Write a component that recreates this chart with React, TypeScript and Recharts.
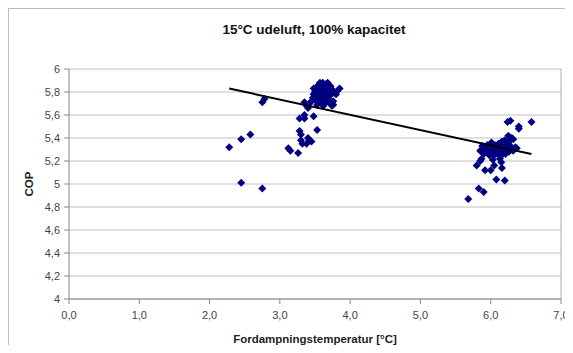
import { ScatterChart, Scatter, XAxis, YAxis, CartesianGrid, ReferenceLine, Label } from 'recharts';

const title = '15°C udeluft, 100% kapacitet';
const xTicks = [0, 1, 2, 3, 4, 5, 6, 7];
const yTicks = [4, 4.2, 4.4, 4.6, 4.8, 5, 5.2, 5.4, 5.6, 5.8, 6];

// measured points [fordampningstemperatur, COP]
const lowPoints = [
  [2.28, 5.32], [2.45, 5.39], [2.58, 5.43], [2.45, 5.01], [2.75, 4.96],
  [2.75, 5.71], [2.78, 5.74], [3.12, 5.31], [3.15, 5.29], [3.26, 5.27],
  [3.28, 5.57], [3.28, 5.46], [3.3, 5.43], [3.3, 5.38], [3.32, 5.35],
  [3.35, 5.57], [3.35, 5.6], [3.38, 5.35], [3.4, 5.4], [3.42, 5.38],
  [3.45, 5.37], [3.48, 5.59], [3.53, 5.47], [3.35, 5.71], [3.38, 5.68],
  [3.4, 5.66], [3.42, 5.7],
];

const midCluster = [
  [3.45, 5.72], [3.47, 5.75], [3.48, 5.78], [3.5, 5.8], [3.5, 5.74], [3.52, 5.84],
  [3.52, 5.77], [3.54, 5.71], [3.55, 5.82], [3.55, 5.86], [3.56, 5.78], [3.57, 5.74],
  [3.58, 5.8], [3.58, 5.85], [3.59, 5.7], [3.6, 5.83], [3.6, 5.77], [3.61, 5.88],
  [3.62, 5.73], [3.63, 5.8], [3.63, 5.86], [3.64, 5.76], [3.65, 5.83], [3.66, 5.87],
  [3.66, 5.71], [3.67, 5.79], [3.68, 5.84], [3.69, 5.74], [3.7, 5.81], [3.7, 5.86],
  [3.71, 5.77], [3.72, 5.7], [3.73, 5.83], [3.74, 5.68], [3.75, 5.79], [3.76, 5.72],
  [3.78, 5.8], [3.8, 5.78], [3.82, 5.81], [3.85, 5.83], [3.76, 5.69], [3.53, 5.69],
  [3.62, 5.68], [3.57, 5.88], [3.48, 5.83], [3.68, 5.88], [3.72, 5.85],
];

const highPoints = [
  [5.68, 4.87], [5.83, 4.96], [5.9, 4.93], [5.8, 5.16], [5.85, 5.2], [5.92, 5.12],
  [6.0, 5.12], [6.05, 5.16], [6.08, 5.04], [6.15, 5.19], [6.16, 5.14], [6.2, 5.03],
  [6.24, 5.54], [6.28, 5.55], [6.4, 5.48], [6.4, 5.5], [6.58, 5.54], [6.32, 5.39],
  [6.25, 5.42],
  [5.85, 5.29], [5.88, 5.33], [5.9, 5.26], [5.92, 5.31], [5.94, 5.28], [5.95, 5.34],
  [5.97, 5.3], [5.98, 5.25], [6.0, 5.32], [6.01, 5.36], [6.02, 5.28], [6.04, 5.31],
  [6.05, 5.25], [6.06, 5.34], [6.08, 5.29], [6.09, 5.32], [6.1, 5.27], [6.11, 5.35],
  [6.12, 5.3], [6.14, 5.24], [6.15, 5.33], [6.16, 5.37], [6.18, 5.28], [6.19, 5.31],
  [6.2, 5.38], [6.21, 5.26], [6.22, 5.34], [6.24, 5.3], [6.25, 5.36], [6.26, 5.28],
  [6.28, 5.33], [6.3, 5.31], [6.32, 5.29], [6.35, 5.32], [6.37, 5.31], [6.3, 5.4],
  [6.27, 5.38], [5.87, 5.22], [6.03, 5.21], [6.13, 5.22],
];

// linear trendline endpoints
const trendline = [[2.28, 5.83], [6.58, 5.26]];

const toXY = (arr: number[][]) => arr.map(([x, y]) => ({ x, y }));
const points = toXY([...lowPoints, ...midCluster, ...highPoints]);
const trend = toXY(trendline);

const fmtX = (v: number) => v.toFixed(1).replace('.', ',');
const fmtY = (v: number) => String(Math.round(v * 10) / 10).replace('.', ',');

const Diamond = (props: any) => {
  const { cx, cy } = props;
  const r = 4;
  return (
    <polygon
      points={`${cx},${cy - r} ${cx + r},${cy} ${cx},${cy + r} ${cx - r},${cy}`}
      fill="#000080"
    />
  );
};

const font = '"Liberation Sans", Arial, sans-serif';
const tickStyle = { fontSize: 11, fill: '#444', fontFamily: font };

export default function App() {
  return (
    <div
      style={{
        position: 'relative',
        width: 565,
        height: 337,
        borderLeft: '1px solid #bbb',
        borderTop: '1px solid #bbb',
        boxSizing: 'border-box',
        fontFamily: font,
        background: '#fff',
      }}
    >
      <div
        style={{
          position: 'absolute',
          left: 0,
          width: 610,
          top: 13,
          textAlign: 'center',
          fontWeight: 'bold',
          fontSize: 13.5,
          color: '#111',
        }}
      >
        {title}
      </div>
      <ScatterChart
        width={564}
        height={336}
        margin={{ top: 60, right: 12, left: 0, bottom: 0 }}
      >
        <CartesianGrid vertical={false} stroke="#c0c0c0" strokeWidth={1} />
        <XAxis
          type="number"
          dataKey="x"
          domain={[0, 7]}
          ticks={xTicks}
          tickFormatter={fmtX}
          tick={tickStyle}
          tickSize={5}
          tickMargin={7}
          stroke="#888"
          height={46}
          interval={0}
        >
          <Label
            value="Fordampningstemperatur [°C]"
            position="insideBottom"
            offset={2}
            style={{ fontSize: 11.5, fontWeight: 'bold', fill: '#222', fontFamily: font }}
          />
        </XAxis>
        <YAxis
          type="number"
          dataKey="y"
          domain={[4, 6]}
          ticks={yTicks}
          tickFormatter={fmtY}
          tick={tickStyle}
          tickSize={5}
          tickMargin={4}
          stroke="#888"
          width={60}
          interval={0}
        >
          <Label
            value="COP"
            angle={-90}
            position="insideLeft"
            offset={20}
            style={{ fontSize: 11.5, fontWeight: 'bold', fill: '#222', fontFamily: font, textAnchor: 'middle' }}
          />
        </YAxis>
        <ReferenceLine x={7} stroke="#aaa" />
        <Scatter data={points} shape={<Diamond />} isAnimationActive={false} />
        <Scatter
          data={trend}
          line={{ stroke: '#000', strokeWidth: 2 }}
          shape={() => null}
          isAnimationActive={false}
        />
      </ScatterChart>
    </div>
  );
}
